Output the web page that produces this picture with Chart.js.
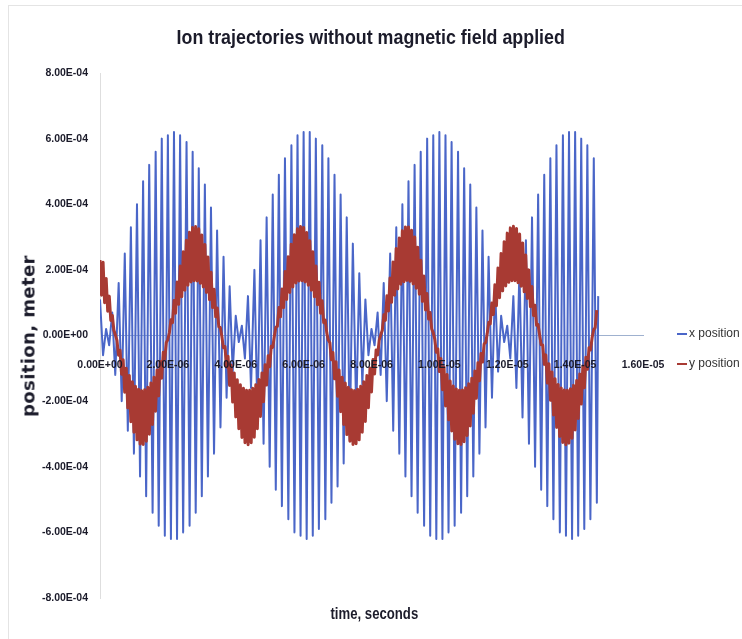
<!DOCTYPE html>
<html lang="en">
<head>
    <meta charset="UTF-8">
    <title>Ion trajectories without magnetic field applied</title>
    <script src="https://cdn.jsdelivr.net/npm/chart.js"></script>
    <style>
        :root {
            --sans: 'Liberation Sans', Arial, sans-serif;
            --text-color: #1b1b2a;
        }

        body {
            margin: 0;
            padding: 0;
            background: #fff;
        }

        #wrap {
            position: relative;
            width: 742px;
            height: 639px;
            overflow: hidden;
        }

        #frame {
            position: absolute;
            left: 8px;
            top: 5px;
            width: 760px;
            height: 660px;
            border: 1px solid #e4e4e4;
        }

        canvas {
            position: absolute;
            left: 0;
            top: 0;
        }

        .centered {
            position: absolute;
            text-align: center;
            white-space: nowrap;
        }

        .centered span {
            display: inline-block;
            transform-origin: center center;
        }

        .title {
            left: 0;
            width: 742px;
            top: 25px;
            font-family: var(--sans);
            font-weight: bold;
            font-size: 21px;
            color: var(--text-color);
        }

        .x-title {
            left: 274px;
            width: 200px;
            top: 605px;
            font-family: var(--sans);
            font-weight: bold;
            font-size: 16px;
            color: var(--text-color);
        }

        .y-title {
            position: absolute;
            left: 28px;
            top: 336px;
            transform: translate(-50%, -50%) rotate(-90deg);
            white-space: nowrap;
            font-family: 'DejaVu Sans', sans-serif;
            font-weight: bold;
            font-size: 18px;
            letter-spacing: 0.4px;
            color: var(--text-color);
        }

        .legend-item {
            position: absolute;
            left: 677px;
            height: 14px;
            white-space: nowrap;
            font-family: var(--sans);
            font-size: 12px;
            line-height: 14px;
            color: #333;
        }

        .legend-item span {
            display: inline-block;
            width: 10px;
            height: 2px;
            vertical-align: middle;
            margin-right: 2px;
        }
    </style>
</head>

<body>
    <div id="wrap">
        <div id="frame"></div>
        <canvas id="ionChart" width="742" height="639"></canvas>
        <div class="centered title"><span id="chartTitle">Ion trajectories without magnetic field applied</span></div>
        <div class="y-title">position, meter</div>
        <div class="centered x-title"><span id="xTitle">time, seconds</span></div>
        <div class="legend-item" style="top: 326px;"><span style="background:#4a66c8"></span>x position</div>
        <div class="legend-item" style="top: 356px;"><span style="background:#a83a33"></span>y position</div>
    </div>

    <script>
        // x position samples: time in microseconds (peaks of the fast swing)
        const timeUs = [
            0.00, 0.09, 0.18, 0.27, 0.36, 0.45, 0.55, 0.64, 0.73, 0.82, 0.91,
            1.00, 1.09, 1.18, 1.27, 1.36, 1.45, 1.55, 1.64, 1.73, 1.82, 1.91,
            2.00, 2.09, 2.18, 2.27, 2.36, 2.45, 2.55, 2.64, 2.73, 2.82, 2.91,
            3.00, 3.09, 3.18, 3.27, 3.36, 3.45, 3.55, 3.64, 3.73, 3.82, 3.91,
            4.00, 4.09, 4.18, 4.27, 4.36, 4.45, 4.55, 4.64, 4.73, 4.82, 4.91,
            5.00, 5.09, 5.18, 5.27, 5.36, 5.45, 5.55, 5.64, 5.73, 5.82, 5.91,
            6.00, 6.09, 6.18, 6.27, 6.36, 6.45, 6.55, 6.64, 6.73, 6.82, 6.91,
            7.00, 7.09, 7.18, 7.27, 7.36, 7.45, 7.55, 7.64, 7.73, 7.82, 7.91,
            8.00, 8.09, 8.18, 8.27, 8.36, 8.45, 8.55, 8.64, 8.73, 8.82, 8.91,
            9.00, 9.09, 9.18, 9.27, 9.36, 9.45, 9.55, 9.64, 9.73, 9.82, 9.91,
            10.00, 10.09, 10.18, 10.27, 10.36, 10.45, 10.55, 10.64, 10.73, 10.82, 10.91,
            11.00, 11.09, 11.18, 11.27, 11.36, 11.45, 11.55, 11.64, 11.73, 11.82, 11.91,
            12.00, 12.09, 12.18, 12.27, 12.36, 12.45, 12.55, 12.64, 12.73, 12.82, 12.91,
            13.00, 13.09, 13.18, 13.27, 13.36, 13.45, 13.55, 13.64, 13.73, 13.82, 13.91,
            14.00, 14.09, 14.18, 14.27, 14.36, 14.45, 14.55, 14.64, 14.68
        ];

        // x position, units of 1e-4 m
        const xPositionE4 = [
            1.1, -0.6, 0.2,
            -0.3, 0.7, -1.2, 1.6, -2.0, 2.5, -2.9, 3.3, -3.6, 4.0, -4.3, 4.7, -4.9, 5.2, -5.4, 5.6, -5.8, 6.0, -6.1, 6.1,
            -6.2, 6.2, -6.2, 6.1, -6.0, 5.9, -5.8, 5.6, -5.4, 5.1, -4.9, 4.6, -4.3, 3.9, -3.6, 3.2, -2.8, 2.4, -1.9, 1.5,
            -1.1, 0.6, -0.2,
            0.3, -0.7, 1.2, -1.6, 2.0, -2.5, 2.9, -3.3, 3.6, -4.0, 4.3, -4.7, 4.9, -5.2, 5.4, -5.6, 5.8, -6.0, 6.1, -6.1,
            6.2, -6.2, 6.2, -6.1, 6.0, -5.9, 5.8, -5.6, 5.4, -5.1, 4.9, -4.6, 4.3, -3.9, 3.6, -3.2, 2.8, -2.4, 1.9, -1.5,
            1.1, -0.6, 0.2,
            -0.3, 0.7, -1.2, 1.6, -2.0, 2.5, -2.9, 3.3, -3.6, 4.0, -4.3, 4.7, -4.9, 5.2, -5.4, 5.6, -5.8, 6.0, -6.1, 6.1,
            -6.2, 6.2, -6.2, 6.1, -6.0, 5.9, -5.8, 5.6, -5.4, 5.1, -4.9, 4.6, -4.3, 3.9, -3.6, 3.2, -2.8, 2.4, -1.9, 1.5,
            -1.1, 0.6, -0.2,
            0.3, -0.7, 1.2, -1.6, 2.0, -2.5, 2.9, -3.3, 3.6, -4.0, 4.3, -4.7, 4.9, -5.2, 5.4, -5.6, 5.8, -6.0, 6.1, -6.1,
            6.2, -6.2, 6.2, -6.1, 6.0, -5.9, 5.8, -5.6, 5.4, -5.1,
            1.2
        ];

        // y position samples: time in microseconds (outer / inner edge of the ripple band)
        const yTimeUs = [
            0.000, 0.045, 0.091, 0.136, 0.182, 0.227, 0.273, 0.318, 0.364, 0.409, 0.455, 0.500, 0.545, 0.591, 0.636, 0.682, 0.727, 0.773, 0.818, 0.864, 0.909, 0.955,
            1.000, 1.045, 1.091, 1.136, 1.182, 1.227, 1.273, 1.318, 1.364, 1.409, 1.455, 1.500, 1.545, 1.591, 1.636, 1.682, 1.727, 1.773, 1.818, 1.864, 1.909, 1.955,
            2.000, 2.045, 2.091, 2.136, 2.182, 2.227, 2.273, 2.318, 2.364, 2.409, 2.455, 2.500, 2.545, 2.591, 2.636, 2.682, 2.727, 2.773, 2.818, 2.864, 2.909, 2.955,
            3.000, 3.045, 3.091, 3.136, 3.182, 3.227, 3.273, 3.318, 3.364, 3.409, 3.455, 3.500, 3.545, 3.591, 3.636, 3.682, 3.727, 3.773, 3.818, 3.864, 3.909, 3.955,
            4.000, 4.045, 4.091, 4.136, 4.182, 4.227, 4.273, 4.318, 4.364, 4.409, 4.455, 4.500, 4.545, 4.591, 4.636, 4.682, 4.727, 4.773, 4.818, 4.864, 4.909, 4.955,
            5.000, 5.045, 5.091, 5.136, 5.182, 5.227, 5.273, 5.318, 5.364, 5.409, 5.455, 5.500, 5.545, 5.591, 5.636, 5.682, 5.727, 5.773, 5.818, 5.864, 5.909, 5.955,
            6.000, 6.045, 6.091, 6.136, 6.182, 6.227, 6.273, 6.318, 6.364, 6.409, 6.455, 6.500, 6.545, 6.591, 6.636, 6.682, 6.727, 6.773, 6.818, 6.864, 6.909, 6.955,
            7.000, 7.045, 7.091, 7.136, 7.182, 7.227, 7.273, 7.318, 7.364, 7.409, 7.455, 7.500, 7.545, 7.591, 7.636, 7.682, 7.727, 7.773, 7.818, 7.864, 7.909, 7.955,
            8.000, 8.045, 8.091, 8.136, 8.182, 8.227, 8.273, 8.318, 8.364, 8.409, 8.455, 8.500, 8.545, 8.591, 8.636, 8.682, 8.727, 8.773, 8.818, 8.864, 8.909, 8.955,
            9.000, 9.045, 9.091, 9.136, 9.182, 9.227, 9.273, 9.318, 9.364, 9.409, 9.455, 9.500, 9.545, 9.591, 9.636, 9.682, 9.727, 9.773, 9.818, 9.864, 9.909, 9.955,
            10.000, 10.045, 10.091, 10.136, 10.182, 10.227, 10.273, 10.318, 10.364, 10.409, 10.455, 10.500, 10.545, 10.591, 10.636, 10.682, 10.727, 10.773, 10.818, 10.864, 10.909, 10.955,
            11.000, 11.045, 11.091, 11.136, 11.182, 11.227, 11.273, 11.318, 11.364, 11.409, 11.455, 11.500, 11.545, 11.591, 11.636, 11.682, 11.727, 11.773, 11.818, 11.864, 11.909, 11.955,
            12.000, 12.045, 12.091, 12.136, 12.182, 12.227, 12.273, 12.318, 12.364, 12.409, 12.455, 12.500, 12.545, 12.591, 12.636, 12.682, 12.727, 12.773, 12.818, 12.864, 12.909, 12.955,
            13.000, 13.045, 13.091, 13.136, 13.182, 13.227, 13.273, 13.318, 13.364, 13.409, 13.455, 13.500, 13.545, 13.591, 13.636, 13.682, 13.727, 13.773, 13.818, 13.864, 13.909, 13.955,
            14.000, 14.045, 14.091, 14.136, 14.182, 14.227, 14.273, 14.318, 14.364, 14.409, 14.455, 14.500, 14.545, 14.591, 14.636
        ];

        // y position, units of 1e-4 m
        const yPositionE4 = [
            2.30, 1.23, 2.23, 1.00, 1.74, 0.74, 1.20, 0.46, 0.61, 0.16,
            0.01, -0.15, -0.60, -0.45, -1.18, -0.74, -1.73, -1.00, -2.21, -1.22,
            -2.63, -1.41, -2.95, -1.55, -3.18, -1.64, -3.31, -1.68, -3.32, -1.65,
            -3.22, -1.58, -3.01, -1.45, -2.71, -1.27, -2.31, -1.05, -1.84, -0.79,
            -1.30, -0.51, -0.72, -0.21, -0.12, 0.09, 0.48, 0.39, 1.07, 0.68,
            1.63, 0.95, 2.12, 1.18, 2.55, 1.38, 2.90, 1.53, 3.15, 1.63,
            3.29, 1.67, 3.32, 1.66, 3.25, 1.59, 3.06, 1.48, 2.77, 1.31,
            2.39, 1.09, 1.93, 0.85, 1.41, 0.57, 0.84, 0.27, 0.24, -0.03,
            -0.37, -0.34, -0.96, -0.63, -1.52, -0.90, -2.03, -1.14, -2.48, -1.35,
            -2.84, -1.50, -3.11, -1.61, -3.27, -1.67, -3.33, -1.67, -3.27, -1.61,
            -3.10, -1.50, -2.84, -1.34, -2.47, -1.14, -2.02, -0.89, -1.51, -0.62,
            -0.95, -0.33, -0.36, -0.03, 0.25, 0.28, 0.85, 0.57, 1.42, 0.85,
            1.95, 1.10, 2.40, 1.31, 2.78, 1.48, 3.07, 1.60, 3.25, 1.66,
            3.32, 1.67, 3.29, 1.63, 3.14, 1.53, 2.89, 1.38, 2.55, 1.18,
            2.12, 0.94, 1.62, 0.68, 1.06, 0.39, 0.47, 0.08, -0.14, -0.22,
            -0.74, -0.52, -1.32, -0.80, -1.85, -1.05, -2.32, -1.27, -2.71, -1.45,
            -3.02, -1.58, -3.22, -1.65, -3.32, -1.68, -3.30, -1.64, -3.18, -1.55,
            -2.95, -1.41, -2.62, -1.22, -2.20, -0.99, -1.72, -0.73, -1.17, -0.44,
            -0.59, -0.14, 0.02, 0.16, 0.63, 0.46, 1.21, 0.75, 1.75, 1.01,
            2.24, 1.23, 2.65, 1.42, 2.97, 1.56, 3.19, 1.64, 3.31, 1.68,
            3.31, 1.65, 3.21, 1.57, 3.00, 1.44, 2.69, 1.26, 2.29, 1.04,
            1.81, 0.78, 1.28, 0.50, 0.70, 0.20, 0.09, -0.11, -0.51, -0.41,
            -1.10, -0.70, -1.65, -0.96, -2.15, -1.19, -2.57, -1.39, -2.91, -1.54,
            -3.16, -1.63, -3.30, -1.67, -3.32, -1.66, -3.24, -1.59, -3.05, -1.47,
            -2.76, -1.30, -2.37, -1.08, -1.91, -0.83, -1.38, -0.55, -0.81, -0.26,
            -0.21, 0.05, 0.40, 0.35, 0.99, 0.64, 1.55, 0.91, 2.06, 1.15,
            2.50, 1.36, 2.86, 1.51, 3.12, 1.62, 3.28, 1.67, 3.33, 1.67,
            3.26, 1.61, 3.09, 1.50, 2.82, 1.33, 2.45, 1.13, 2.00, 0.88,
            1.49, 0.61, 0.92, 0.31, 0.33, 0.01, -0.28, -0.29, -0.88, -0.59,
            -1.45, -0.86, -1.97, -1.11, -2.42, -1.32, -2.80, -1.49, -3.08, -1.60,
            -3.26, -1.66, -3.33, -1.67, -3.28, -1.62, -3.13, -1.52, -2.88, -1.37,
            -2.53, -1.17, -2.09, -0.93, -1.59, -0.66, -1.03, -0.37, -0.44, -0.07,
            0.17, 0.24, 0.77
        ];

        const xTicksMax = 1.6e-5;
        const yTicksMax = 8e-4;

        // Excel style scientific label: 2.00E-06
        function excelSci(v) {
            const parts = Number(v).toExponential(2).split('e');
            const exp = parseInt(parts[1], 10);
            return parts[0] + 'E' + (exp < 0 ? '-' : '+') + String(Math.abs(exp)).padStart(2, '0');
        }

        // squeeze a text to the width it has in the picture
        function fitWidth(id, target) {
            const el = document.getElementById(id);
            el.style.transform = 'scaleX(' + (target / el.offsetWidth) + ')';
        }
        fitWidth('chartTitle', 388);
        fitWidth('xTitle', 88);

        const toPoints = (times, vals) => times.map((t, i) => ({ x: t * 1e-6, y: vals[i] * 1e-4 }));

        const tickFont = {
            family: "'Liberation Sans', Arial, sans-serif",
            size: 10.5,
            weight: 'bold'
        };

        new Chart(document.getElementById('ionChart'), {
            type: 'line',
            data: {
                datasets: [
                    {
                        label: 'y position',
                        data: toPoints(yTimeUs, yPositionE4),
                        borderColor: '#a83a33',
                        borderWidth: 3,
                        borderJoinStyle: 'round',
                        pointRadius: 0,
                        order: 1
                    },
                    {
                        label: 'x position',
                        data: toPoints(timeUs, xPositionE4),
                        borderColor: '#4a66c8',
                        borderWidth: 2,
                        borderJoinStyle: 'round',
                        pointRadius: 0,
                        order: 2
                    }
                ]
            },
            options: {
                responsive: false,
                animation: false,
                layout: { padding: { left: 0, top: 73, right: 99, bottom: 41 } },
                plugins: {
                    legend: { display: false },
                    tooltip: { enabled: false },
                    title: { display: false }
                },
                scales: {
                    x: {
                        type: 'linear',
                        min: 0,
                        max: xTicksMax,
                        position: { y: 0 },
                        grid: { display: false, drawTicks: false },
                        border: { display: true, color: '#9fb1cf', width: 1 },
                        ticks: {
                            z: 1,
                            stepSize: 2e-6,
                            padding: 23,
                            maxRotation: 0,
                            autoSkip: false,
                            color: '#1b1b2a',
                            font: tickFont,
                            callback: (v) => excelSci(v)
                        }
                    },
                    y: {
                        type: 'linear',
                        min: -yTicksMax,
                        max: yTicksMax,
                        grid: { display: false, drawTicks: false },
                        border: { display: true, color: '#dedede', width: 1 },
                        ticks: {
                            stepSize: 2e-4,
                            padding: 12,
                            color: '#1b1b2a',
                            font: tickFont,
                            callback: (v) => excelSci(v)
                        },
                        afterFit: (scale) => { scale.width = 100; }
                    }
                }
            }
        });
    </script>
</body>
</html>
